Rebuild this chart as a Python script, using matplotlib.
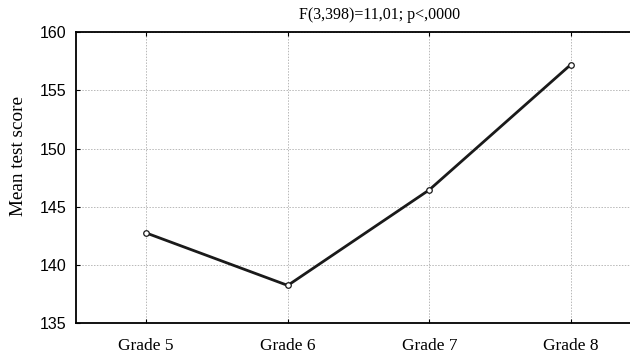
"""Mean test score by grade (line plot with markers)"""

import matplotlib

matplotlib.use("Agg")
import matplotlib.pyplot as plt

# データ
grades = ["Grade 5", "Grade 6", "Grade 7", "Grade 8"]
mean_scores = [142.75, 138.25, 146.45, 157.2]
y_ticks = [135, 140, 145, 150, 155, 160]
title_text = "F(3,398)=11,01; p<,0000"
y_label = "Mean test score"

serif = ["Liberation Serif", "DejaVu Serif"]
sans = ["Liberation Sans", "DejaVu Sans"]

fig = plt.figure(figsize=(6.3, 3.6), dpi=100)
# 右端は画像の外まで伸びている
ax = fig.add_axes([75.5 / 630, 36.7 / 360, 566 / 630, 291.3 / 360])

x = list(range(len(grades)))
ax.plot(
    x,
    mean_scores,
    color="#1a1a1a",
    linewidth=2.0,
    marker="o",
    markersize=4,
    markerfacecolor="white",
    markeredgecolor="#1a1a1a",
    markeredgewidth=0.9,
    zorder=3,
)

ax.set_xlim(-0.5, len(grades) - 0.5)
ax.set_ylim(y_ticks[0], y_ticks[-1])
ax.set_xticks(x)
ax.set_xticklabels(grades, fontfamily=serif, fontsize=12.5)
ax.set_yticks(y_ticks)
ax.set_yticklabels([str(t) for t in y_ticks], fontfamily=sans, fontsize=11.5)

ax.tick_params(axis="x", direction="in", length=3, width=0.8, pad=10.5, top=True, colors="black")
ax.tick_params(axis="y", direction="in", length=3, width=0.8, pad=6.5, colors="black")

ax.grid(True, color="#b8b8b8", linestyle=(0, (1.5, 1.5)), linewidth=0.7)
ax.set_axisbelow(True)

for side in ["left", "bottom", "top"]:
    ax.spines[side].set_linewidth(1.3)
    ax.spines[side].set_color("black")
ax.spines["right"].set_visible(False)

fig.text(380 / 630, 1 - 15 / 360, title_text, ha="center", va="center",
         fontfamily=serif, fontsize=11.5)
fig.text(19 / 630, 1 - 155.5 / 360, y_label, ha="center", va="center",
         rotation=90, fontfamily=serif, fontsize=13.8)

fig.savefig("out.png", dpi=100)
